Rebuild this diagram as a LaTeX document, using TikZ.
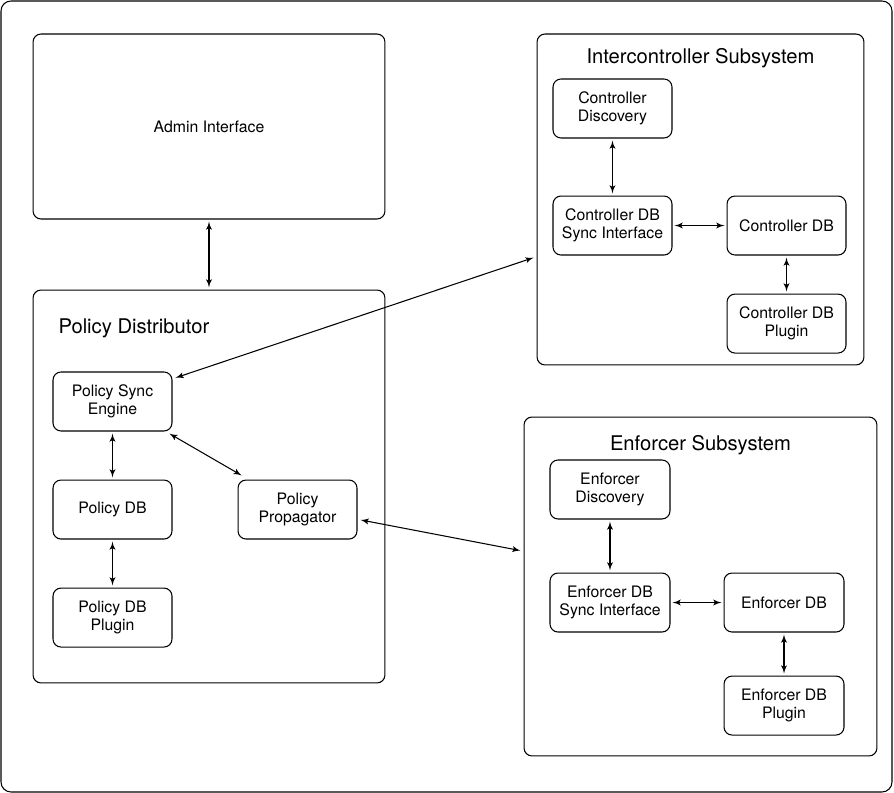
\documentclass[tikz,border=0pt]{standalone}
\usepackage{fontspec}
\setmainfont{TeX Gyre Heros}
\usetikzlibrary{arrows,calc,positioning}
\tikzset{every picture/.style={
  >=latex'                      % LaTeX style arrows.
  }
}

\begin{document}
\begin{tikzpicture}[
    x=0.02cm,
    y=-0.02cm,
    line width=0.6pt,
    grp/.style={
      rectangle,
      rounded corners=0.16cm,
      draw,
      inner sep=0pt
    },
    blk/.style={
      rectangle,
      rounded corners=0.16cm,
      draw,
      inner sep=0pt,
      minimum width=2.38cm,
      minimum height=1.18cm,
      align=center,
      font=\fontsize{9}{10.2}\selectfont
    },
    ttl/.style={
      inner sep=0pt,
      font=\fontsize{11.5}{13}\selectfont
    },
    link/.style={
      <->,
      shorten >=1.2pt,
      shorten <=1.2pt
    }]

    \useasboundingbox (0,0) rectangle (894,793);

    % Outer frame.
    \draw[rounded corners=0.2cm] (1,1) rectangle (892,792);

    % The admin interface and the policy distributor.
    \node[grp,minimum width=7.04cm,minimum height=3.70cm,
      font=\fontsize{9}{10.2}\selectfont] (admin) at (209,126.5)
      {Admin Interface};
    \node[grp,minimum width=7.04cm,minimum height=7.86cm] (pd) at (209,486.5) {};
    \node[ttl,anchor=west] (pdt) at (58,328.5) {Policy Distributor};

    \node[blk] (pse) at (112.5,401.5) {Policy Sync\\Engine};
    \node[blk,below=0.96cm of pse] (pdb) {Policy DB};
    \node[blk,below=0.96cm of pdb] (pdbp) {Policy DB\\Plugin};
    \node[blk,right=1.3cm of pdb] (pp) {Policy\\Propagator};

    % Intercontroller subsystem.
    \node[grp,minimum width=6.54cm,minimum height=6.62cm] (ics) at (700.5,199.5) {};
    \node[ttl] (icst) at (700.5,58) {Intercontroller Subsystem};

    \node[blk] (cdisc) at (612.5,108.5) {Controller\\Discovery};
    \node[blk,below=1.14cm of cdisc] (cdsi) {Controller DB\\Sync Interface};
    \node[blk,right=1.08cm of cdsi] (cdb) {Controller DB};
    \node[blk,below=0.76cm of cdb] (cdbp) {Controller DB\\Plugin};

    % Enforcer subsystem.
    \node[grp,minimum width=7.06cm,minimum height=6.78cm] (es) at (700.5,586.5) {};
    \node[ttl] (est) at (700.5,445) {Enforcer Subsystem};

    \node[blk,minimum width=2.4cm] (edisc) at (610,489.5) {Enforcer\\Discovery};
    \node[blk,minimum width=2.4cm,below=1.06cm of edisc] (edsi)
      {Enforcer DB\\Sync Interface};
    \node[blk,minimum width=2.4cm,right=1.06cm of edsi] (edb) {Enforcer DB};
    \node[blk,minimum width=2.4cm,below=0.86cm of edb] (edbp) {Enforcer DB\\Plugin};

    % Links inside the boxes.
    \draw[link] (admin) -- (pd);
    \draw[link] (pse) -- (pdb);
    \draw[link] (pdb) -- (pdbp);
    \draw[link] ($(pse.south east)+(-5,1)$) -- ($(pp.north west)+(6,-3)$);
    \draw[link] (cdisc) -- (cdsi);
    \draw[link] (cdsi) -- (cdb);
    \draw[link] (cdb) -- (cdbp);
    \draw[link] (edisc) -- (edsi);
    \draw[link] (edsi) -- (edb);
    \draw[link] (edb) -- (edbp);

    % Links between the subsystems.
    \draw[link] ($(ics.west)+(-1,57.5)$) -- ($(pse.north east)+(1,7)$);
    \draw[link] ($(pp.east)+(1,10)$) -- ($(es.west)+(-1,-35.5)$);
  \end{tikzpicture}
\end{document}
